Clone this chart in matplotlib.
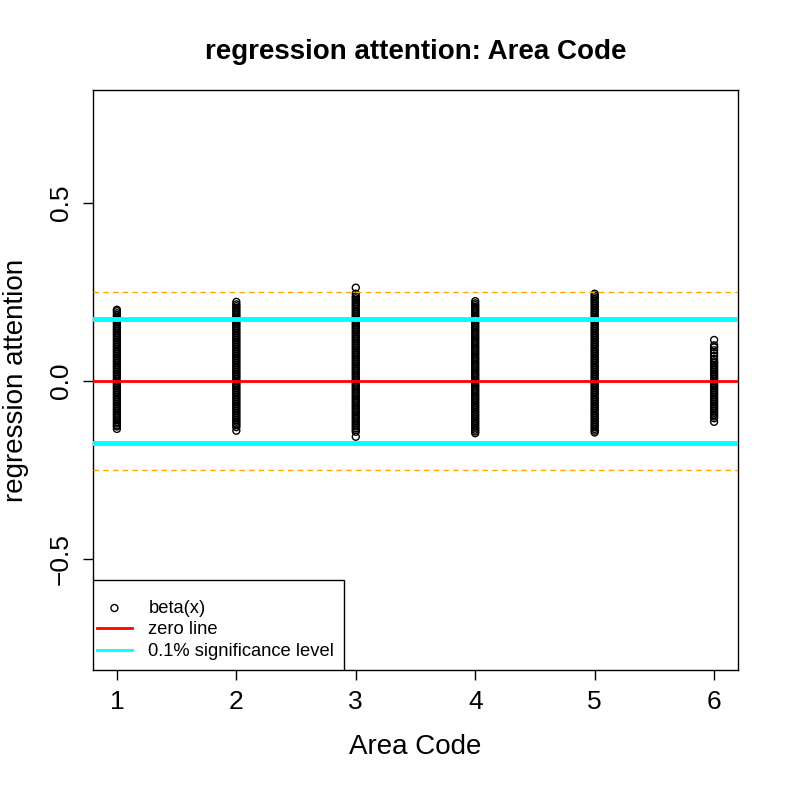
import matplotlib.pyplot as plt
from matplotlib.patches import Rectangle

plt.rcParams['font.family'] = ['Liberation Sans', 'DejaVu Sans']
plt.rcParams['axes.unicode_minus'] = True

# beta(x) values per area code
area_codes = [1, 2, 3, 4, 5, 6]
beta_1 = [-0.135, -0.128, -0.125, -0.12, -0.115, -0.11, -0.105, -0.1, -0.095, -0.09,
          -0.085, -0.08, -0.075, -0.07, -0.065, -0.06, -0.055, -0.05, -0.045, -0.04,
          -0.035, -0.03, -0.025, -0.02, -0.015, -0.01, -0.005, 0.0, 0.005, 0.01,
          0.015, 0.02, 0.025, 0.03, 0.035, 0.04, 0.045, 0.05, 0.055, 0.06,
          0.065, 0.07, 0.075, 0.08, 0.085, 0.09, 0.095, 0.1, 0.105, 0.11,
          0.115, 0.12, 0.125, 0.13, 0.135, 0.14, 0.145, 0.15, 0.155, 0.16,
          0.165, 0.17, 0.175, 0.18, 0.185, 0.19, 0.196, 0.2]
beta_2 = [-0.14, -0.13, -0.125, -0.12, -0.115, -0.11, -0.105, -0.1, -0.095, -0.09,
          -0.085, -0.08, -0.075, -0.07, -0.065, -0.06, -0.055, -0.05, -0.045, -0.04,
          -0.035, -0.03, -0.025, -0.02, -0.015, -0.01, -0.005, 0.0, 0.005, 0.01,
          0.015, 0.02, 0.025, 0.03, 0.035, 0.04, 0.045, 0.05, 0.055, 0.06,
          0.065, 0.07, 0.075, 0.08, 0.085, 0.09, 0.095, 0.1, 0.105, 0.11,
          0.115, 0.12, 0.125, 0.13, 0.135, 0.14, 0.145, 0.15, 0.155, 0.16,
          0.165, 0.17, 0.175, 0.18, 0.185, 0.19, 0.195, 0.2, 0.205, 0.21,
          0.215, 0.222]
beta_3 = [-0.157, -0.143, -0.138, -0.133, -0.128, -0.123, -0.118, -0.113, -0.108, -0.103,
          -0.098, -0.093, -0.088, -0.083, -0.078, -0.073, -0.068, -0.063, -0.058, -0.053,
          -0.048, -0.043, -0.038, -0.033, -0.028, -0.023, -0.018, -0.013, -0.008, -0.003,
          0.002, 0.007, 0.012, 0.017, 0.022, 0.027, 0.032, 0.037, 0.042, 0.047,
          0.052, 0.057, 0.062, 0.067, 0.072, 0.077, 0.082, 0.087, 0.092, 0.097,
          0.102, 0.107, 0.112, 0.117, 0.122, 0.127, 0.132, 0.137, 0.142, 0.147,
          0.152, 0.157, 0.162, 0.167, 0.172, 0.177, 0.182, 0.187, 0.192, 0.197,
          0.202, 0.207, 0.212, 0.217, 0.222, 0.227, 0.232, 0.237, 0.245, 0.262]
beta_4 = [-0.147, -0.142, -0.137, -0.132, -0.127, -0.122, -0.117, -0.112, -0.107, -0.102,
          -0.097, -0.092, -0.087, -0.082, -0.077, -0.072, -0.067, -0.062, -0.057, -0.052,
          -0.047, -0.042, -0.037, -0.032, -0.027, -0.022, -0.017, -0.012, -0.007, -0.002,
          0.003, 0.008, 0.013, 0.018, 0.023, 0.028, 0.033, 0.038, 0.043, 0.048,
          0.053, 0.058, 0.063, 0.068, 0.073, 0.078, 0.083, 0.088, 0.093, 0.098,
          0.103, 0.108, 0.113, 0.118, 0.123, 0.128, 0.133, 0.138, 0.143, 0.148,
          0.153, 0.158, 0.163, 0.168, 0.173, 0.178, 0.183, 0.188, 0.193, 0.198,
          0.203, 0.208, 0.213, 0.218, 0.224]
beta_5 = [-0.145, -0.14, -0.135, -0.13, -0.125, -0.12, -0.115, -0.11, -0.105, -0.1,
          -0.095, -0.09, -0.085, -0.08, -0.075, -0.07, -0.065, -0.06, -0.055, -0.05,
          -0.045, -0.04, -0.035, -0.03, -0.025, -0.02, -0.015, -0.01, -0.005, 0.0,
          0.005, 0.01, 0.015, 0.02, 0.025, 0.03, 0.035, 0.04, 0.045, 0.05,
          0.055, 0.06, 0.065, 0.07, 0.075, 0.08, 0.085, 0.09, 0.095, 0.1,
          0.105, 0.11, 0.115, 0.12, 0.125, 0.13, 0.135, 0.14, 0.145, 0.15,
          0.155, 0.16, 0.165, 0.17, 0.175, 0.18, 0.185, 0.19, 0.195, 0.2,
          0.205, 0.21, 0.215, 0.22, 0.225, 0.23, 0.235, 0.24, 0.245]
beta_6 = [-0.115, -0.105, -0.1, -0.095, -0.09, -0.085, -0.08, -0.075, -0.07, -0.065,
          -0.06, -0.055, -0.05, -0.045, -0.04, -0.035, -0.03, -0.025, -0.02, -0.015,
          -0.01, -0.005, 0.0, 0.005, 0.01, 0.015, 0.02, 0.025, 0.03, 0.035,
          0.04, 0.045, 0.05, 0.055, 0.062, 0.07, 0.078, 0.086, 0.094, 0.1, 0.115]
betas = [beta_1, beta_2, beta_3, beta_4, beta_5, beta_6]

sig_level = 0.1735
outer_level = 0.25

fig = plt.figure(figsize=(7.85, 7.85), dpi=100)
ax = fig.add_axes([93 / 785, 115 / 785, 645 / 785, 580 / 785])

for code, vals in zip(area_codes, betas):
    ax.scatter([code] * len(vals), vals, s=25, facecolors='none',
               edgecolors='black', linewidths=1.0, zorder=2)

ax.axhline(outer_level, color='orange', lw=1, ls=(0, (4, 3)), zorder=3)
ax.axhline(-outer_level, color='orange', lw=1, ls=(0, (4, 3)), zorder=3)
ax.axhline(0, color='red', lw=2, zorder=3)
ax.axhline(sig_level, color='cyan', lw=3.5, zorder=3)
ax.axhline(-sig_level, color='cyan', lw=3.5, zorder=3)

ax.set_xlim(0.8, 6.2)
ax.set_ylim(-0.8125, 0.8175)
ax.set_xticks(area_codes)
ax.set_yticks([-0.5, 0.0, 0.5])
ax.set_yticklabels(['\u22120.5', '0.0', '0.5'], rotation=90, va='center')
ax.tick_params(labelsize=19, length=7.5, width=1, pad=7)
for sp in ax.spines.values():
    sp.set_linewidth(1)

ax.set_xlabel('Area Code', fontsize=20, labelpad=14)
ax.set_ylabel('regression attention', fontsize=20, labelpad=14)
ax.set_title('regression attention: Area Code', fontsize=20, fontweight='bold', pad=22)

# legend box (R style, bottomleft)
ax.add_patch(Rectangle((0, 0), 251 / 645, 90 / 580, transform=ax.transAxes,
                       facecolor='white', edgecolor='black', lw=1, zorder=5))
h1 = ax.scatter([], [], s=25, facecolors='none', edgecolors='black', linewidths=1.0)
h2, = ax.plot([], [], color='red', lw=2)
h3, = ax.plot([], [], color='cyan', lw=2)
leg = ax.legend([h1, h2, h3], ['beta(x)', 'zero line', '0.1% significance level'],
                loc='lower left', bbox_to_anchor=(4 / 645, 10 / 580), borderaxespad=0,
                frameon=False, fontsize=13.2, handlelength=1.9, labelspacing=0.25,
                borderpad=0, handletextpad=0.9)
leg.set_zorder(6)

fig.savefig('out.png', dpi=100)
